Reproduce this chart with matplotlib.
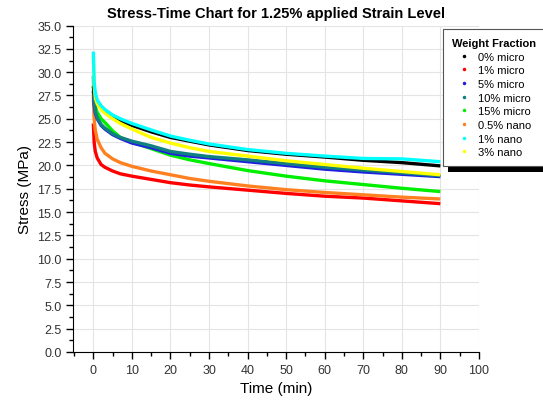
import numpy as np
import matplotlib.pyplot as plt
from matplotlib.lines import Line2D
from matplotlib.patches import Rectangle
from matplotlib.ticker import MultipleLocator

plt.rcParams['font.family'] = ['Liberation Sans', 'DejaVu Sans']

# time points (min)
t = [0, 0.2, 0.5, 1, 2, 3, 5, 7, 10, 15, 20, 25, 30, 40, 50, 60, 70, 80, 90]

s_0_micro = [28.5, 27.8, 27.2, 26.8, 26.2, 25.8, 25.2, 24.8, 24.3, 23.6, 23.0, 22.6, 22.2, 21.6, 21.2, 20.9, 20.55, 20.3, 19.95]
s_1_micro = [24.5, 22.5, 21.5, 20.8, 20.1, 19.8, 19.4, 19.1, 18.85, 18.5, 18.15, 17.9, 17.7, 17.35, 17.0, 16.7, 16.5, 16.2, 15.9]
s_5_micro = [28.0, 26.5, 25.6, 25.0, 24.3, 23.9, 23.3, 22.9, 22.4, 21.9, 21.3, 21.0, 20.8, 20.4, 20.0, 19.6, 19.3, 19.05, 18.8]
s_10_micro = [29.6, 27.0, 25.8, 25.1, 24.4, 24.0, 23.4, 23.0, 22.6, 22.1, 21.5, 21.2, 20.95, 20.6, 20.2, 19.8, 19.5, 19.2, 18.9]
s_15_micro = [28.5, 27.2, 26.3, 25.7, 25.0, 24.6, 23.7, 23.0, 22.5, 21.8, 21.1, 20.6, 20.2, 19.45, 18.85, 18.35, 17.95, 17.55, 17.2]
s_05_nano = [27.4, 25.0, 23.8, 22.8, 21.9, 21.3, 20.7, 20.3, 19.9, 19.4, 19.0, 18.6, 18.3, 17.8, 17.4, 17.1, 16.85, 16.6, 16.4]
s_1_nano = [32.2, 29.0, 27.8, 27.0, 26.4, 26.0, 25.4, 25.0, 24.5, 23.8, 23.15, 22.7, 22.3, 21.7, 21.3, 21.0, 20.75, 20.7, 20.4]
s_3_nano = [31.9, 28.5, 27.2, 26.6, 26.0, 25.6, 25.0, 24.5, 23.9, 23.0, 22.4, 21.9, 21.5, 21.0, 20.5, 20.1, 19.7, 19.35, 19.0]

labels = ['0% micro', '1% micro', '5% micro', '10% micro', '15% micro',
          '0.5% nano', '1% nano', '3% nano']
series = [s_0_micro, s_1_micro, s_5_micro, s_10_micro, s_15_micro,
          s_05_nano, s_1_nano, s_3_nano]
colors = ['#000000', '#ff0000', '#2020e0', '#108080', '#00ee00',
          '#ff8020', '#00ffff', '#ffff00']
# drawing order so that overlaps look like the original
order = [1, 5, 4, 2, 3, 0, 7, 6]

fig = plt.figure(figsize=(5.43, 4.02), dpi=100)
ax = fig.add_axes([0.135, 0.122, 0.747, 0.812])

for i in order:
    ax.plot(t, series[i], color=colors[i], lw=2.4, solid_capstyle='butt')

ax.set_xlim(-5.2, 100)
ax.set_ylim(0, 35)
ax.set_xticks(np.arange(0, 101, 10))
ax.xaxis.set_minor_locator(MultipleLocator(5))
ax.yaxis.set_major_locator(MultipleLocator(2.5))
ax.yaxis.set_minor_locator(MultipleLocator(1.25))
ax.yaxis.set_major_formatter(plt.FormatStrFormatter('%.1f'))
ax.grid(True, color='#e4e4e4', lw=0.8)
ax.set_axisbelow(True)
for side in ['top', 'right']:
    ax.spines[side].set_visible(False)
ax.tick_params(which='major', direction='out', length=5, width=1, labelsize=9, colors='black', labelcolor='#333333')
ax.tick_params(which='minor', direction='out', length=3, width=1)

ax.set_xlabel('Time (min)', fontsize=11)
ax.set_ylabel('Stress (MPa)', fontsize=11)
ax.set_title('Stress-Time Chart for 1.25% applied Strain Level', fontsize=10.5, fontweight='bold', pad=6)

handles = [Line2D([], [], ls='none', marker='.', ms=3, color=c) for c in colors]
leg = ax.legend(handles, labels, title='Weight Fraction', loc='upper left',
                bbox_to_anchor=(443 / 543, 1 - 30 / 402), bbox_transform=fig.transFigure,
                borderaxespad=0, fontsize=8, title_fontproperties={'weight': 'bold', 'size': 8},
                fancybox=False, frameon=True, edgecolor='#555555', framealpha=1,
                handlelength=1.3, handletextpad=0.6, labelspacing=0.33, borderpad=0.8)
leg.get_frame().set_linewidth(0.8)
leg.set_zorder(6)

# thick black drop shadow behind the legend box
fig.canvas.draw()
bb = leg.get_window_extent()
shadow = Rectangle((bb.x0 + 5, bb.y0 - 6), bb.width, bb.height, transform=None,
                   facecolor='black', edgecolor='none', zorder=5.5, clip_on=False)
ax.add_artist(shadow)

fig.savefig('out.png', dpi=100)
